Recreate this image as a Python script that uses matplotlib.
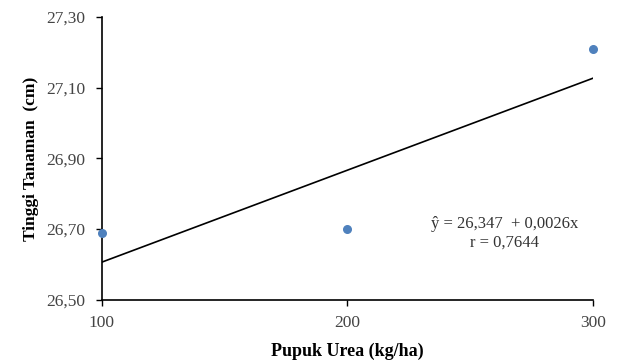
import matplotlib
matplotlib.use("Agg")
import matplotlib.pyplot as plt
import numpy as np

urea = [100, 200, 300]
height = [26.69, 26.70, 27.21]
yticks = [26.50, 26.70, 26.90, 27.10, 27.30]
xticks = [100, 200, 300]

plt.rcParams['font.family'] = ['Liberation Serif', 'DejaVu Serif']

fig = plt.figure(figsize=(6.17, 3.6), dpi=100)
ax = fig.add_axes([0.165, 0.167, 0.796, 0.786])

ax.scatter(urea, height, s=30, color='#4f81bd', zorder=3, clip_on=False)
slope, intercept = np.polyfit(urea, height, 1)
xs = np.array([min(urea), max(urea)])
ax.plot(xs, intercept + slope * xs, color='black', lw=1.2)

ax.set_xlim(100, 300)
ax.set_ylim(26.50, 27.30)
ax.set_xticks(xticks)
ax.set_yticks(yticks)
ax.set_yticklabels([f"{v:.2f}".replace('.', ',') for v in yticks])
ax.set_xticklabels([str(v) for v in xticks])
for s in ['top', 'right']:
    ax.spines[s].set_visible(False)
for s in ['left', 'bottom']:
    ax.spines[s].set_linewidth(1.2)
ax.tick_params(axis='both', labelsize=12.5, colors='black', labelcolor='#444444', length=4, width=1)
ax.tick_params(axis='x', pad=7)
ax.tick_params(axis='y', pad=8)

ax.set_xlabel('Pupuk Urea (kg/ha)', fontsize=13, fontweight='bold', labelpad=8)
ax.set_ylabel('Tinggi Tanaman  (cm)', fontsize=12.5, fontweight='bold', labelpad=5)

ax.text(0.82, 0.235, 'ŷ = 26,347  + 0,0026x\nr = 0,7644', transform=ax.transAxes,
        ha='center', va='center', fontsize=12, color='#333333', linespacing=1.15)

fig.savefig('out.png', dpi=100)
